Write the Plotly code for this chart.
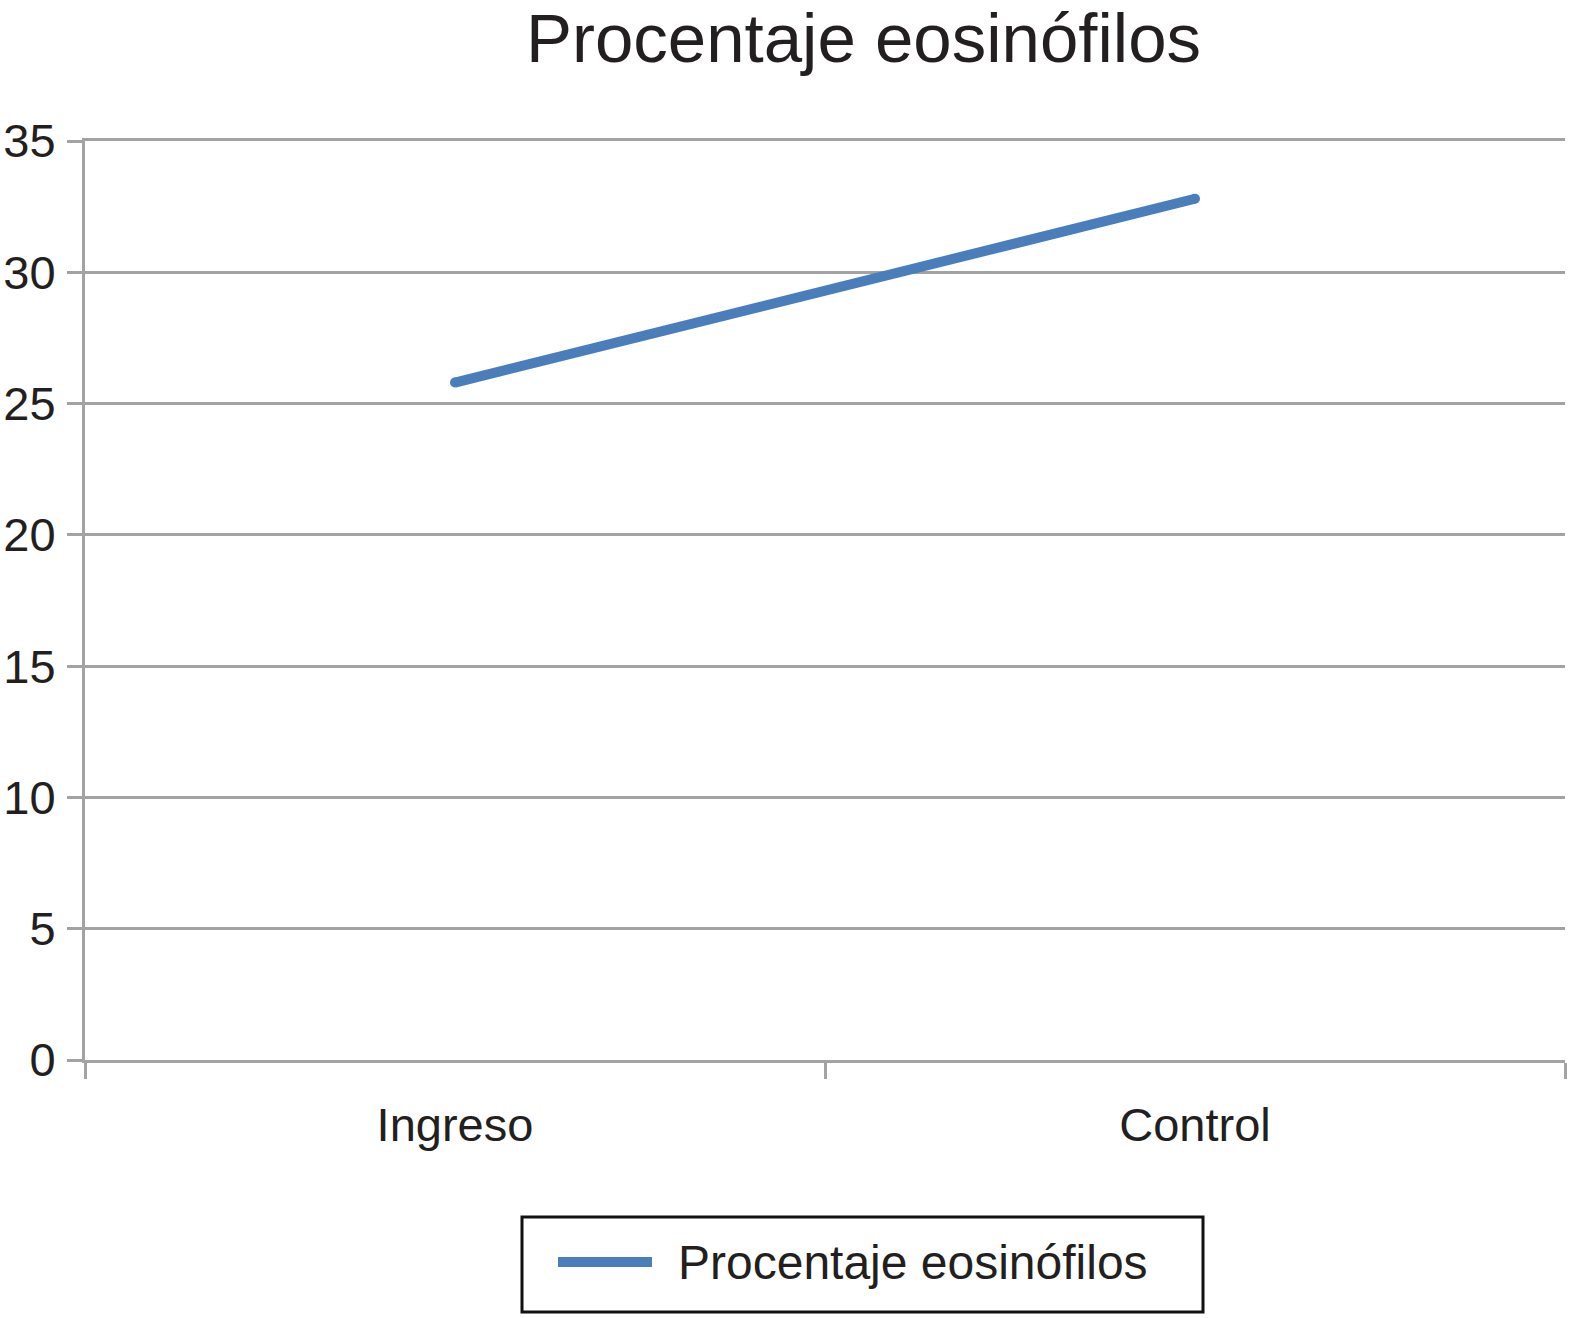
import plotly.graph_objects as go

# ---- data ----
categories = ["Ingreso", "Control"]
values = [25.8, 32.8]
series_name = "Procentaje eosinófilos"
title_text = "Procentaje eosinófilos"
y_ticks = [0, 5, 10, 15, 20, 25, 30, 35]

# ---- layout constants ----
W, H = 1571, 1318
ML, MR, MT, MB = 85, 6, 141, 258
PW, PH = W - ML - MR, H - MT - MB
BLUE = "#4A7EBB"
GRID = "#A3A3A3"
TXT = "#231F20"
FONT = "Liberation Sans, Arial, Helvetica, sans-serif"


def px_x(px):
    return (px - ML) / PW


def px_y(py):
    return (H - MB - py) / PH


fig = go.Figure()
fig.add_trace(go.Scatter(
    x=categories, y=values, mode="lines+markers", name=series_name,
    line=dict(color=BLUE, width=10),
    marker=dict(color=BLUE, size=10, line=dict(width=0)),
    showlegend=False, cliponaxis=False,
))

# manual legend (box, sample line, label)
fig.add_shape(type="rect", xref="paper", yref="paper",
              x0=px_x(522), x1=px_x(1203), y0=px_y(1217), y1=px_y(1312),
              line=dict(color="#111111", width=3), fillcolor="white")
fig.add_shape(type="line", xref="paper", yref="paper",
              x0=px_x(558), x1=px_x(652), y0=px_y(1262), y1=px_y(1262),
              line=dict(color=BLUE, width=10))
fig.add_annotation(xref="paper", yref="paper", x=px_x(676), y=px_y(1262),
                   xanchor="left", yanchor="middle", showarrow=False,
                   text=series_name, font=dict(family=FONT, size=48, color=TXT))

fig.update_layout(
    width=W, height=H,
    margin=dict(l=ML, r=MR, t=MT, b=MB, pad=0, autoexpand=False),
    paper_bgcolor="white", plot_bgcolor="white",
    font=dict(family=FONT, color=TXT),
    title=dict(text=title_text, xref="container", yref="container",
               x=863.5 / W, y=1 - 38 / H, xanchor="center", yanchor="middle",
               font=dict(family=FONT, size=69, color=TXT)),
    xaxis=dict(type="category", range=[-0.5, 1.5], tickson="boundaries",
               ticks="outside", ticklen=16, tickwidth=3, tickcolor=GRID,
               showgrid=False, showline=True, mirror=True, linecolor=GRID,
               linewidth=3, zeroline=False, ticklabelstandoff=22,
               automargin=False,
               tickfont=dict(family=FONT, size=47, color=TXT)),
    yaxis=dict(range=[0, 35], tickvals=y_ticks, ticks="outside", ticklen=15,
               tickwidth=3, tickcolor=GRID, showgrid=True, gridcolor=GRID,
               gridwidth=3, showline=True, linecolor=GRID, linewidth=3,
               zeroline=False, ticklabelstandoff=2, automargin=False,
               tickfont=dict(family=FONT, size=47, color=TXT)),
)

fig.write_html("out.html", config={"displayModeBar": False},
               post_script="document.body.style.margin='0';document.body.style.padding='0';")
